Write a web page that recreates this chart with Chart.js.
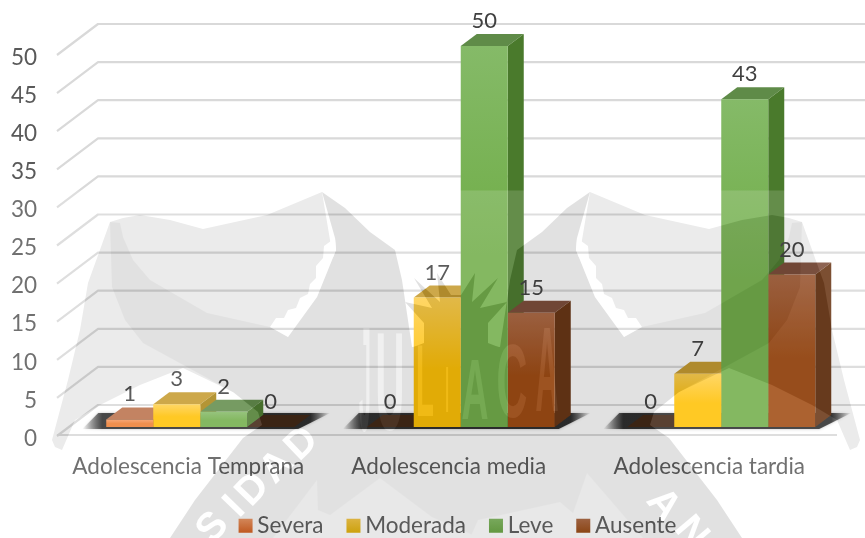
<!DOCTYPE html>
<html><head><meta charset="utf-8">
<script src="https://cdn.jsdelivr.net/npm/chart.js@4"></script>
<style>html,body{margin:0;padding:0;background:#fff;overflow:hidden}#w{position:relative;width:865px;height:538px}</style>
</head><body><div id="w"><canvas id="c" width="865" height="538"></canvas></div>
<script>
const categories = ["Adolescencia Temprana", "Adolescencia media", "Adolescencia tardia"];
const seriesNames = ["Severa", "Moderada", "Leve", "Ausente"];
const severa = [1, 0, 0];
const moderada = [3, 17, 7];
const leve = [2, 50, 43];
const ausente = [0, 15, 20];

const FONT = "Lato";
const DEPTH_X = 16, DEPTH_Y = -12;

const palette = [
  {top:"#f59a63", base:"#ed7d31", lid:"#b96f48", side:"#a9562a", legendA:"#ee9560", legendB:"#d85f1d"},
  {top:"#ffd04d", base:"#ffc000", lid:"#c59a2c", side:"#a88414", legendA:"#f2c33c", legendB:"#e0ae00"},
  {top:"#85ba68", base:"#70ad47", lid:"#5f8b48", side:"#4a7a2c", legendA:"#7db55c", legendB:"#64a23c"},
  {top:"#ad6843", base:"#9e480e", lid:"#7b4a36", side:"#663210", legendA:"#a9633c", legendB:"#944209"}
];
const ZERO_FLOOR = "#3e2210";

function frontFill(i){
  return function(ctx){
    const chart = ctx.chart;
    if(!chart.chartArea || ctx.raw === undefined) return palette[i].base;
    const y = chart.scales.y;
    const g = chart.ctx.createLinearGradient(0, y.getPixelForValue(ctx.raw), 0, y.getPixelForValue(0));
    g.addColorStop(0, palette[i].top);
    g.addColorStop(0.55, palette[i].base);
    g.addColorStop(1, palette[i].base);
    return g;
  };
}

const floorAndFaces = {
  id:"floorAndFaces",
  afterLayout(chart){
    chart.legend.left += 35; chart.legend.right += 35;
    chart.legend.top += 9; chart.legend.bottom += 9;
  },
  beforeDatasetsDraw(chart){
    const c = chart.ctx, ys = chart.scales.y, a = chart.chartArea;
    c.save();
    c.strokeStyle = "#d9d9d9"; c.lineWidth = 2.2; c.lineJoin = "round";
    ys.ticks.forEach(t=>{
      const p = ys.getPixelForValue(t.value);
      c.beginPath(); c.moveTo(a.left-13, p+9); c.lineTo(a.left+28, p-22); c.lineTo(865, p-22); c.stroke();
    });
    const z = ys.getPixelForValue(0);
    c.beginPath(); c.moveTo(a.left-13, z+8); c.lineTo(837, z+8); c.stroke();
    const metas = chart.getSortedVisibleDatasetMetas();
    categories.forEach((_, k)=>{
      const f = metas[0].data[k], l = metas[metas.length-1].data[k];
      const L = f.x-f.width/2, R = l.x+l.width/2;
      const x0 = L-24, x1 = R+DEPTH_X+20, fade = 20/(x1-x0);
      const g = c.createLinearGradient(x0,0,x1,0);
      g.addColorStop(0,"rgba(15,15,15,0)"); g.addColorStop(fade,"rgba(15,15,15,0.85)");
      g.addColorStop(1-fade,"rgba(15,15,15,0.85)"); g.addColorStop(1,"rgba(15,15,15,0)");
      c.save();
      c.shadowColor = "rgba(0,0,0,0.35)"; c.shadowBlur = 3;
      c.fillStyle = g;
      c.beginPath(); c.moveTo(x0,z+2); c.lineTo(R+4,z+2); c.lineTo(x1,z-14); c.lineTo(x0+16,z-14); c.closePath(); c.fill();
      c.restore();
    });
    categories.forEach((_, k)=>{
      metas.forEach((m, i)=>{
        const b = m.data[k], L = b.x-b.width/2, R = b.x+b.width/2, v = chart.data.datasets[i].data[k];
        c.fillStyle = v === 0 ? ZERO_FLOOR : palette[i].lid;
        c.beginPath(); c.moveTo(L,b.y); c.lineTo(R,b.y); c.lineTo(R+DEPTH_X,b.y+DEPTH_Y); c.lineTo(L+DEPTH_X,b.y+DEPTH_Y); c.closePath(); c.fill();
        if(v > 0){
          c.fillStyle = palette[i].side;
          c.beginPath(); c.moveTo(R,b.y); c.lineTo(R+DEPTH_X,b.y+DEPTH_Y); c.lineTo(R+DEPTH_X,b.base+DEPTH_Y); c.lineTo(R,b.base); c.closePath(); c.fill();
        }
      });
    });
    c.restore();
  },
  afterDatasetsDraw(chart){
    const c = chart.ctx;
    c.save();
    c.font = "22px "+FONT; c.fillStyle = "#404040"; c.textAlign = "center"; c.textBaseline = "middle";
    chart.getSortedVisibleDatasetMetas().forEach((m,i)=>{
      m.data.forEach((b,k)=>{
        c.fillText(String(chart.data.datasets[i].data[k]), b.x, b.y+DEPTH_Y-13);
      });
    });
    c.restore();
  }
};

function poly(c, pts){ c.beginPath(); pts.forEach((p,i)=> i? c.lineTo(p[0],p[1]) : c.moveTo(p[0],p[1])); c.closePath(); c.fill(); }

const SEAL_AXIS = 912;
const wingLight = [[110,222],[123,218],[140,215],[170,220],[203,229],[267,215],[322,192],[340,300],[270,400],[233,392],[183,368],[140,385],[100,405],[75,420],[62,450],[55,447],[52,440],[68,380],[80,330],[88,283]];
const wingDark = [[110,222],[112,287],[125,320],[143,343],[187,367],[233,392],[258,412],[262,425],[243,438],[195,500],[170,538],[456,538],[456,346],[435,345],[412,347],[402,280],[395,250],[370,232],[345,208],[322,192],[335,238],[336,250],[317,297],[288,337],[270,327],[207,313],[150,280],[133,260],[123,237],[120,223]];
const crescent = [[335,238],[336,250],[317,297],[288,337],[270,327],[276,318],[284,318],[288,310],[296,308],[300,298],[308,294],[310,284],[316,278],[316,266],[323,258],[324,246]];
const crownHalf = [[456,348],[456,295],[461,295],[475,273],[472,302],[498,278],[480,308],[507,302],[488,323],[488,343],[501,348]];

function sealLayer(){
  const o = document.createElement("canvas"); o.width = 865; o.height = 538;
  const c = o.getContext("2d");
  c.fillStyle = "#fff"; c.fillRect(0,190.5,865,348);
  const both = fn => { c.save(); fn(); c.restore(); c.save(); c.translate(SEAL_AXIS,0); c.scale(-1,1); fn(); c.restore(); };
  both(()=>{ c.fillStyle = "#707070"; poly(c, wingLight); });
  both(()=>{ c.fillStyle = "#303030"; poly(c, wingDark); });
  both(()=>{ c.fillStyle = "#fff"; poly(c, crescent); });
  both(()=>{ c.fillStyle = "#303030"; poly(c, crownHalf); });
  c.fillStyle = "#5a5a5a";
  poly(c, [[273,538],[317,480],[318,510],[330,515],[380,478],[432,517],[480,538]]);
  poly(c, [[478,520],[560,502],[573,513],[587,473],[643,538],[470,538]]);
  c.fillStyle = "#fff"; c.textAlign = "center"; c.textBaseline = "middle";
  [["S",213,528,-48],["I",235,507,-46],["D",253,490,-46],["A",277,467,-46],["D",302,444,-44],["A",663,505,50],["N",691,533,50]].forEach(l=>{
    c.save(); c.translate(l[1],l[2]); c.rotate(l[3]*Math.PI/180); c.font = "bold 40px 'Liberation Sans'"; c.fillText(l[0],0,0); c.restore();
  });
  [["J",365,390,112,16],["U",390,392,104,30],["L",425,388,76,22],["I",447,394,48,10],["A",475,395,64,28],["C",512,388,78,32],["A",547,378,90,24]].forEach(l=>{
    c.save(); c.translate(l[1],l[2]); c.scale(l[4]/30,l[3]/30); c.font = "bold 40px 'Liberation Sans'"; c.globalAlpha = .5; c.fillText(l[0],0,0); c.restore();
  });
  return o;
}
const sealPlugin = { id:"seal", afterDraw(chart){ const c = chart.ctx; c.save(); c.globalAlpha = .14; c.drawImage(sealLayer(),0,0); c.restore(); } };

new Chart(document.getElementById("c"), {
  type:"bar",
  data:{ labels:categories, datasets:[severa, moderada, leve, ausente].map((d,i)=>({
    label:seriesNames[i], data:d, backgroundColor:frontFill(i), borderWidth:0,
    categoryPercentage:0.7217, barPercentage:1 })) },
  options:{
    responsive:false, animation:false,
    layout:{ padding:{ top:46, right:13.5, left:0, bottom:0 } },
    plugins:{
      tooltip:{enabled:false},
      legend:{ position:"bottom",
        labels:{ boxWidth:1, boxHeight:1, padding:29.5, color:"#595959", font:{family:FONT,size:22.5},
          generateLabels(chart){
            return chart.data.datasets.map((d,i)=>{
              const g = chart.ctx.createLinearGradient(0,519,0,533);
              g.addColorStop(0,palette[i].legendA); g.addColorStop(1,palette[i].legendB);
              return {text:d.label, fillStyle:g, strokeStyle:g, lineWidth:13, lineJoin:"miter", fontColor:"#595959", hidden:false, datasetIndex:i};
            });
          } } }
    },
    scales:{
      x:{ grid:{display:false}, border:{display:false},
        afterFit(s){ s.height = 49; },
        ticks:{ color:"#595959", font:{family:FONT,size:22.5}, padding:18, labelOffset:-12, maxRotation:0, autoSkip:false } },
      y:{ min:0, max:50, grid:{display:false}, border:{display:false},
        afterFit(s){ s.width = 70; },
        ticks:{ stepSize:5, color:"#595959", font:{family:FONT,size:22.5}, padding:25, labelOffset:11.5 } }
    }
  },
  plugins:[floorAndFaces, sealPlugin]
});
</script></body></html>
